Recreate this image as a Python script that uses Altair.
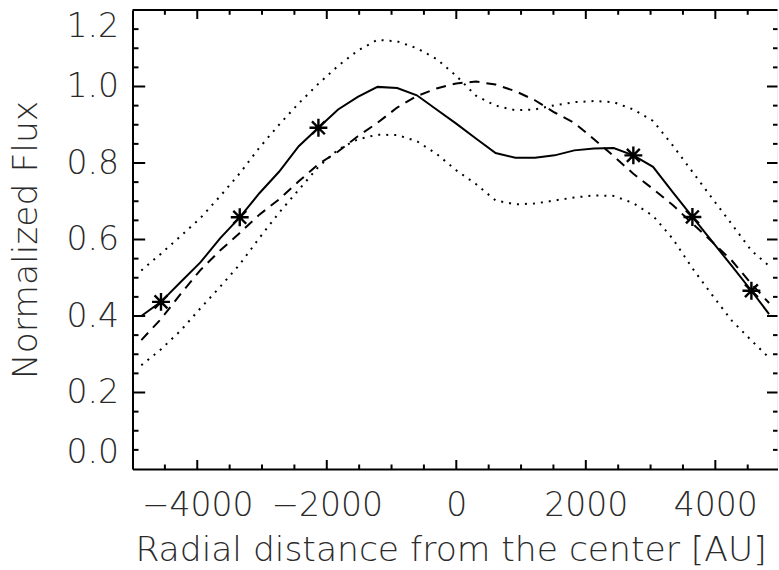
import altair as alt
import pandas as pd

# ---- data ----
x_au = [-4864, -4560, -4256, -3952, -3648, -3344, -3041, -2737, -2433, -2129,
        -1825, -1521, -1217, -913, -609, -305, -1, 303, 607, 911,
        1215, 1518, 1822, 2126, 2430, 2734, 3038, 3342, 3646, 3950,
        4254, 4557, 4830]
solid = [0.400, 0.437, 0.489, 0.540, 0.603, 0.658, 0.721, 0.777, 0.844, 0.892,
         0.940, 0.973, 0.999, 0.996, 0.977, 0.940, 0.903, 0.864, 0.826, 0.814,
         0.814, 0.820, 0.833, 0.838, 0.839, 0.820, 0.790, 0.724, 0.659, 0.595,
         0.531, 0.466, 0.405]
dashed = [0.337, 0.392, 0.458, 0.520, 0.571, 0.617, 0.665, 0.705, 0.752, 0.797,
          0.830, 0.870, 0.905, 0.945, 0.975, 0.995, 1.008, 1.013, 1.005, 0.988,
          0.964, 0.932, 0.905, 0.862, 0.818, 0.772, 0.732, 0.690, 0.642, 0.594,
          0.545, 0.484, 0.434]
upper = [0.519, 0.563, 0.609, 0.656, 0.713, 0.773, 0.840, 0.900, 0.956, 1.007,
         1.054, 1.094, 1.122, 1.118, 1.100, 1.072, 1.028, 0.976, 0.950, 0.938,
         0.940, 0.951, 0.959, 0.962, 0.959, 0.940, 0.910, 0.846, 0.777, 0.708,
         0.640, 0.571, 0.531]
lower = [0.271, 0.313, 0.362, 0.420, 0.476, 0.535, 0.604, 0.670, 0.730, 0.790,
         0.835, 0.862, 0.874, 0.873, 0.857, 0.824, 0.781, 0.745, 0.702, 0.692,
         0.694, 0.702, 0.710, 0.715, 0.714, 0.695, 0.662, 0.602, 0.525, 0.455,
         0.388, 0.336, 0.291]
marker_idx = [1, 5, 9, 25, 28, 31]

x_major = [-4000, -2000, 0, 2000, 4000]
x_minor = [-4500, -3500, -3000, -2500, -1500, -1000, -500, 500, 1000, 1500,
           2500, 3000, 3500, 4500]
y_major = [0.2, 0.4, 0.6, 0.8, 1.0]
y_minor = [0.05, 0.1, 0.15, 0.25, 0.3, 0.35, 0.45, 0.5, 0.55, 0.65, 0.7, 0.75,
           0.85, 0.9, 0.95, 1.05, 1.1, 1.15]
y_labels = [0.0, 0.2, 0.4, 0.6, 0.8, 1.0, 1.2]

# ---- layout ----
W, H = 645, 459
FONT = "DejaVu Sans"
TC = "#2a2a2a"

def line_df(vals):
    return pd.DataFrame({"x": x_au, "y": vals})

mk = pd.DataFrame({"x": [x_au[i] for i in marker_idx],
                   "y": [solid[i] for i in marker_idx]})

xs = alt.Scale(domain=[-5000, 4960], nice=False, zero=False)
ys = alt.Scale(domain=[0, 1.2], nice=False, zero=False)

xaxis = alt.Axis(values=x_major, format="d", ticks=False, grid=False,
                 domainColor="black", domainWidth=2,
                 labelFont=FONT, labelFontSize=33, labelColor=TC, labelFontWeight=200,
                 labelPadding=20, labelFlush=False, labelOverlap=False,
                 title="Radial distance from the center [AU]",
                 titleFont=FONT, titleFontSize=34.5, titleFontWeight=200, titleColor=TC,
                 titleX=318, titleY=91, titleBaseline="alphabetic", titleAlign="center")
yaxis = alt.Axis(values=y_labels, format=".1f", ticks=False, grid=False,
                 domainColor="black", domainWidth=2,
                 labelFont=FONT, labelFontSize=33, labelColor=TC, labelFontWeight=200,
                 labelPadding=14, labelFlush=True, labelOverlap=False,
                 title="Normalized Flux",
                 titleFont=FONT, titleFontSize=34.5, titleFontWeight=200, titleColor=TC,
                 titleX=-96, titleY=H / 2, titleBaseline="alphabetic", titleAlign="center",
                 titleAngle=-90)

X = alt.X("x:Q", scale=xs, axis=xaxis)
Y = alt.Y("y:Q", scale=ys, axis=yaxis)

solid_l = alt.Chart(line_df(solid)).mark_line(color="black", strokeWidth=2, clip=True).encode(x=X, y=Y)
dashed_l = alt.Chart(line_df(dashed)).mark_line(color="black", strokeWidth=2, strokeDash=[10, 7], clip=True).encode(x=X, y=Y)
upper_l = alt.Chart(line_df(upper)).mark_line(color="black", strokeWidth=2, strokeDash=[2, 6], clip=True).encode(x=X, y=Y)
lower_l = alt.Chart(line_df(lower)).mark_line(color="black", strokeWidth=2, strokeDash=[2, 6], clip=True).encode(x=X, y=Y)

ast = "M0,-1L0,1M-1,0L1,0M-0.72,-0.72L0.72,0.72M-0.72,0.72L0.72,-0.72"
markers = alt.Chart(mk).mark_point(shape=ast, size=320, filled=False, stroke="black",
                                   strokeWidth=2.4, opacity=1).encode(x=X, y=Y)

def xt(vals, y0, y1):
    return alt.Chart(pd.DataFrame({"x": vals})).mark_rule(color="black", strokeWidth=2).encode(
        x=X, y=alt.value(y0), y2=alt.value(y1))

def yt(vals, x0, x1):
    return alt.Chart(pd.DataFrame({"y": vals})).mark_rule(color="black", strokeWidth=2).encode(
        y=Y, x=alt.value(x0), x2=alt.value(x1))

ticks = [
    xt(x_major, H, H - 9), xt(x_minor, H, H - 4.5),
    xt(x_major, 0, 9), xt(x_minor, 0, 4.8),
    yt(y_major, 0, 12.7), yt(y_minor, 0, 6),
    yt(y_major, W, W - 10.5), yt(y_minor, W, W - 4.5),
]
top_frame = alt.Chart(pd.DataFrame({"a": [0]})).mark_rule(color="black", strokeWidth=2).encode(
    x=alt.value(0), x2=alt.value(W), y=alt.value(0))

chart = alt.layer(solid_l, dashed_l, upper_l, lower_l, markers, top_frame, *ticks).properties(
    width=W, height=H,
    padding={"left": 132.5, "top": 10, "right": 0, "bottom": 101},
    autosize="none",
).configure_view(stroke=None).configure(background="white")

chart.save("out.html", embed_options={"renderer": "svg", "actions": False})
